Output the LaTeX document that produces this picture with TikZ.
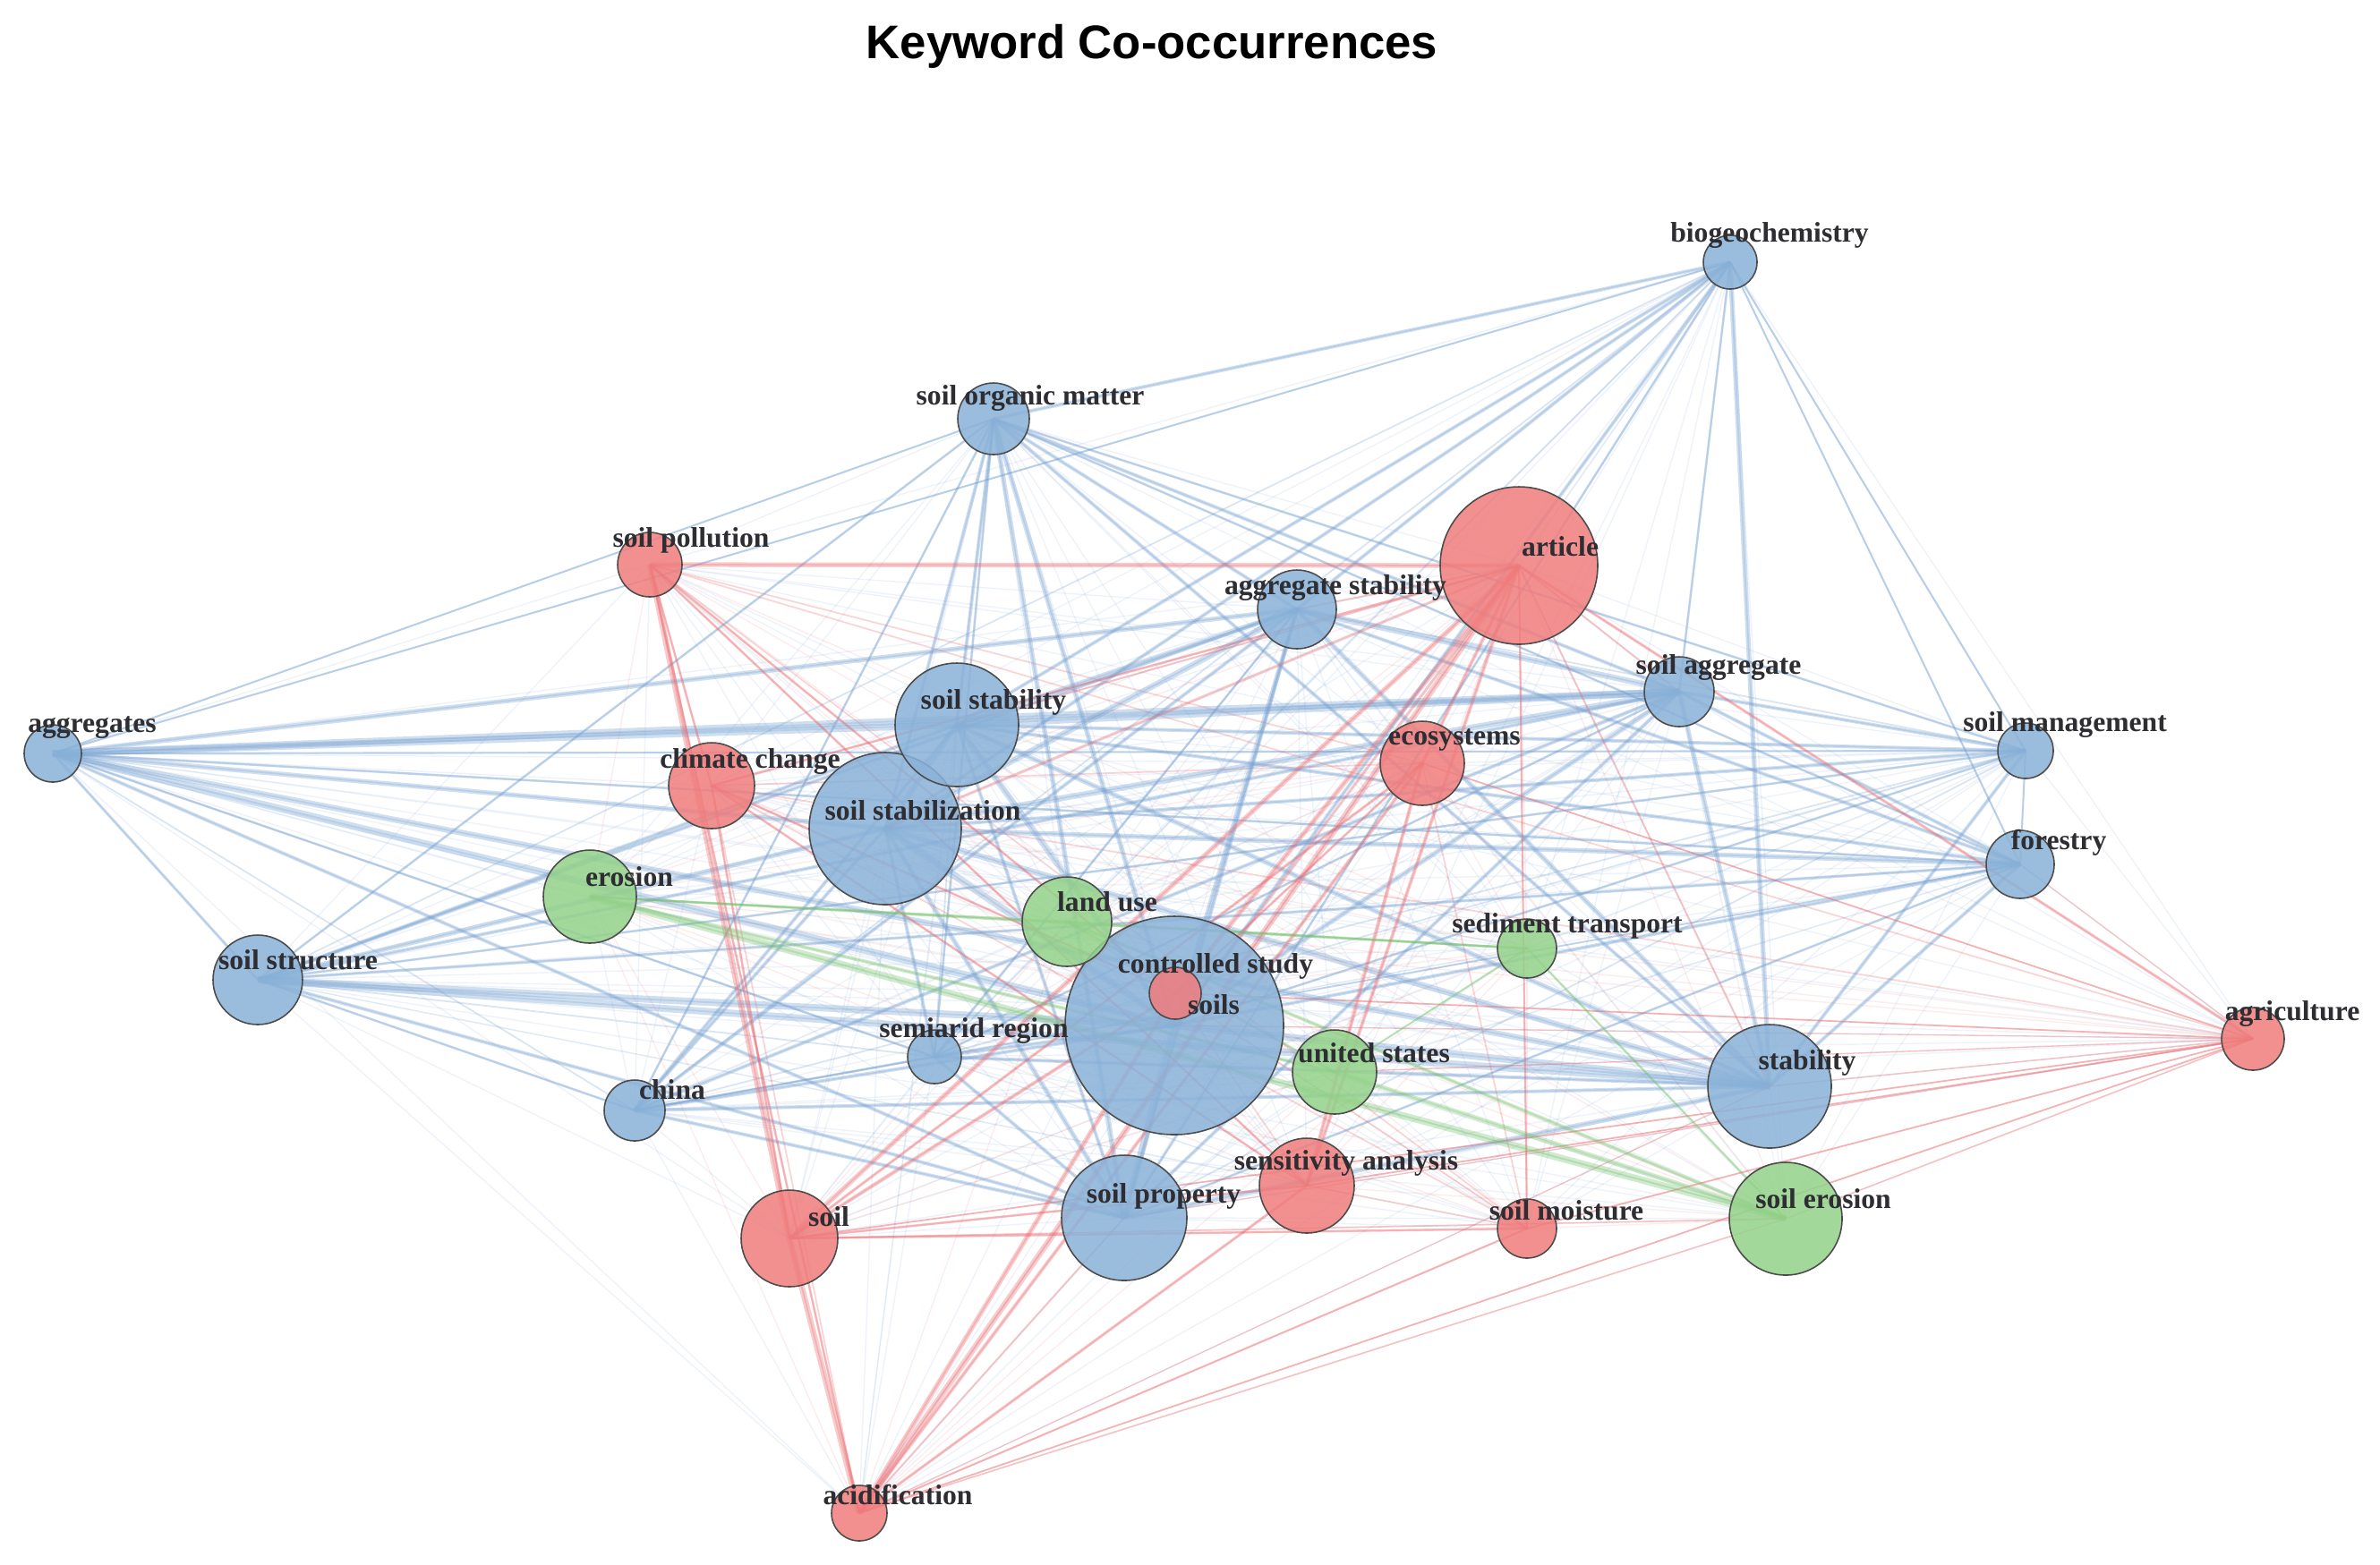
\documentclass[tikz,border=0pt]{standalone}
\usepackage{fontspec}
\setmainfont{Liberation Serif}
\newfontfamily\titlefont{Liberation Sans}
\pgfdeclarelayer{background}
\pgfsetlayers{background,main}
\definecolor{nodeblue}{RGB}{138,178,216}
\definecolor{nodered}{RGB}{240,125,125}
\definecolor{nodegreen}{RGB}{148,210,138}
\definecolor{c1}{RGB}{120,162,210}
\definecolor{c2}{RGB}{235,105,110}
\definecolor{c3}{RGB}{120,195,110}
\definecolor{labgray}{RGB}{45,45,50}
\tikzset{
  kw/.style={circle, draw=black!70, line width=0.45pt, inner sep=0pt, fill opacity=0.85},
  bn/.style={kw, fill=nodeblue},
  rn/.style={kw, fill=nodered},
  gn/.style={kw, fill=nodegreen},
  lab/.style={font=\bfseries\fontsize{9}{10}\selectfont, text=labgray, inner sep=0pt},
  faint/.style={line width=0.4pt, draw opacity=0.12},
  same/.style={line width=0.5pt, draw opacity=0.28},
  heavy/.style={draw opacity=0.34},
}
\def\allnodes{bio/1,som/1,ags/1,sagg/1,smgt/1,aggs/1,sstab/1,sstz/1,fore/1,sstr/1,cs/1,semi/1,stab/1,china/1,sprop/1,spol/2,art/2,eco/2,cc/2,soils/2,agri/2,sens/2,soil/2,smoist/2,acid/2,ero/3,lu/3,sed/3,us/3,seros/3}
\begin{document}
\begin{tikzpicture}
\useasboundingbox (0,0) rectangle (26.59,-17.48);
% title
\node[font=\titlefont\bfseries\fontsize{15}{18}\selectfont, anchor=base, text=black] (title) at (12.87,-0.65) {Keyword Co-occurrences};
% nodes
\node[bn, minimum size=0.60cm] (bio) at (19.33,-2.93) {};
\node[bn, minimum size=0.80cm] (som) at (11.10,-4.68) {};
\node[rn, minimum size=0.72cm] (spol) at (7.26,-6.31) {};
\node[rn, minimum size=1.76cm] (art) at (16.97,-6.32) {};
\node[bn, minimum size=0.88cm] (ags) at (14.49,-6.81) {};
\node[bn, minimum size=0.78cm] (sagg) at (18.76,-7.73) {};
\node[bn, minimum size=0.62cm] (smgt) at (22.63,-8.39) {};
\node[bn, minimum size=0.64cm] (aggs) at (0.59,-8.42) {};
\node[bn, minimum size=1.70cm] (sstz) at (9.89,-9.26) {};
\node[bn, minimum size=1.38cm] (sstab) at (10.69,-8.10) {};
\node[rn, minimum size=0.94cm] (eco) at (15.89,-8.53) {};
\node[rn, minimum size=0.96cm] (cc) at (7.95,-8.78) {};
\node[bn, minimum size=0.76cm] (fore) at (22.57,-9.66) {};
\node[gn, minimum size=1.04cm] (ero) at (6.59,-10.02) {};
\node[gn, minimum size=0.66cm] (sed) at (17.06,-10.60) {};
\node[bn, minimum size=1.00cm] (sstr) at (2.88,-10.95) {};
\node[bn, minimum size=2.44cm] (cs) at (13.12,-11.46) {};
\node[gn, minimum size=1.00cm] (lu) at (11.92,-10.30) {};
\node[rn, minimum size=0.58cm] (soils) at (13.13,-11.10) {};
\node[bn, minimum size=0.60cm] (semi) at (10.44,-11.81) {};
\node[rn, minimum size=0.70cm] (agri) at (25.17,-11.61) {};
\node[gn, minimum size=0.94cm] (us) at (14.91,-11.98) {};
\node[bn, minimum size=1.38cm] (stab) at (19.77,-12.14) {};
\node[bn, minimum size=0.68cm] (china) at (7.09,-12.41) {};
\node[rn, minimum size=1.06cm] (sens) at (14.60,-13.25) {};
\node[bn, minimum size=1.40cm] (sprop) at (12.56,-13.61) {};
\node[rn, minimum size=1.08cm] (soil) at (8.82,-13.84) {};
\node[rn, minimum size=0.66cm] (smoist) at (17.06,-13.73) {};
\node[gn, minimum size=1.26cm] (seros) at (19.95,-13.62) {};
\node[rn, minimum size=0.62cm] (acid) at (9.60,-16.91) {};
% edges
\begin{pgfonlayer}{background}
\fill[white] (0,0) rectangle (26.59,-17.48);
\foreach \a/\ca [count=\i] in \allnodes {
  \foreach \b/\cb [count=\j] in \allnodes {
    \ifnum\j>\i
      \ifnum\ca=\cb
        \draw[same, draw=c\ca] (\a.center) -- (\b.center);
      \else
        \draw[faint, draw=c\ca] (\a.center) -- (\b.center);
      \fi
    \fi
  }
}
\foreach \u/\v/\w in {aggs/sagg/3, aggs/sstab/3, aggs/ags/2, aggs/cs/3, aggs/stab/2.5, aggs/sstz/2, aggs/sprop/1.5, aggs/sstr/1.2, aggs/semi/1, aggs/fore/1, aggs/som/0.8, aggs/bio/0.8, aggs/smgt/0.8,
  sstr/stab/3, sstr/cs/3, sstr/sagg/1.5, sstr/ags/1.5, sstr/sstab/1.5, sstr/sstz/2, sstr/som/1, sstr/sprop/1.5, sstr/china/1, sstr/fore/1.2, sstr/smgt/1,
  bio/stab/2, bio/ags/1.5, bio/sstab/1.5, bio/sstz/1.5, bio/cs/1.5, bio/som/1.5, bio/sagg/1, bio/sprop/1, bio/smgt/0.8, bio/fore/0.8,
  som/cs/2, som/sprop/2, som/sstz/1.5, som/sstab/1.5, som/ags/1.5, som/stab/1.5, som/sagg/1.5, som/china/1, som/semi/1, som/fore/1, som/smgt/1,
  ags/sagg/2.5, ags/sstab/2, ags/sstz/2.5, ags/cs/2, ags/stab/2, ags/sprop/1.5, ags/china/1.5, ags/semi/1, ags/fore/1.5,
  sstab/sagg/3, sstab/stab/2, sstab/cs/2.5, sstab/sstz/2.5, sstab/sprop/1.5, sstab/china/1.5, sstab/fore/1.5, sstab/smgt/1.5,
  sstz/sagg/2.5, sstz/stab/2.5, sstz/cs/3, sstz/sprop/2, sstz/fore/2, sstz/smgt/1.5, sstz/china/1.5, sstz/semi/1.5,
  sagg/stab/2, sagg/cs/2, sagg/sprop/1.5, sagg/fore/1.5, sagg/smgt/1.5, sagg/china/1.5, sagg/semi/1,
  cs/stab/3, cs/sprop/3, cs/fore/1.5, cs/semi/1.5, cs/china/1.5, cs/smgt/1,
  stab/sprop/2, stab/fore/1.5, stab/smgt/1.5, stab/china/1.5, stab/semi/1.5,
  sprop/china/1.5, sprop/semi/1.5, sprop/fore/1, fore/smgt/0.8, china/semi/1}
  \draw[heavy, draw=c1, line width=\w*0.75pt] (\u.center) -- (\v.center);
\foreach \u/\v/\w in {spol/art/2, spol/soil/2.5, spol/acid/1, spol/sens/1, spol/cc/1, spol/soils/1, art/acid/2.5, art/soil/2, art/soils/2, art/sens/1.5, art/eco/1.5, art/agri/1.2, art/cc/1, art/smoist/0.8, soil/acid/2.5, soils/acid/2, soil/soils/1.5, soil/sens/1, soil/smoist/1, eco/sens/1.5, eco/acid/1.5, eco/soil/1.2, eco/soils/1, cc/soils/1, cc/soil/1, cc/sens/1, sens/acid/1.2, smoist/acid/0.8, agri/acid/0.6, agri/soil/0.6, agri/sens/0.6, agri/smoist/0.6, agri/soils/0.6, agri/eco/0.6,
  agri/stab/0.6, agri/fore/0.5, agri/seros/0.6, agri/sprop/0.5, agri/cs/0.5, agri/us/0.5, acid/seros/0.6, acid/stab/0.5, acid/sprop/0.8, soil/seros/0.6, art/stab/0.8, art/sagg/0.8, art/cs/1.2, art/sstz/1.2, art/sstab/0.8, art/ags/0.8}
  \draw[heavy, draw=c2, line width=\w*0.75pt] (\u.center) -- (\v.center);
\foreach \u/\v/\w in {ero/seros/3, ero/lu/1, ero/sed/1, ero/us/1.5, lu/seros/1.5, us/seros/2, lu/us/1, sed/seros/1, lu/sed/1, sed/us/0.8}
  \draw[heavy, draw=c3, line width=\w*0.75pt] (\u.center) -- (\v.center);
\end{pgfonlayer}
% labels
\node[lab] (bio-l) at (19.77,-2.63) {biogeochemistry};
\node[lab] (som-l) at (11.51,-4.45) {soil organic matter};
\node[lab] (spol-l) at (7.72,-6.04) {soil pollution};
\node[lab] (art-l) at (17.43,-6.11) {article};
\node[lab] (ags-l) at (14.92,-6.57) {aggregate stability};
\node[lab] (sstab-l) at (11.10,-7.85) {soil stability};
\node[lab] (eco-l) at (16.25,-8.27) {ecosystems};
\node[lab] (sagg-l) at (19.20,-7.46) {soil aggregate};
\node[lab] (smgt-l) at (23.07,-8.10) {soil management};
\node[lab] (fore-l) at (23.00,-9.42) {forestry};
\node[lab] (agri-l) at (25.61,-11.33) {agriculture};
\node[lab] (aggs-l) at (1.03,-8.13) {aggregates};
\node[lab] (cc-l) at (8.38,-8.51) {climate change};
\node[lab] (ero-l) at (7.03,-9.80) {erosion};
\node[lab] (sstr-l) at (3.33,-10.73) {soil structure};
\node[lab] (sstz-l) at (10.31,-9.06) {soil stabilization};
\node[lab] (lu-l) at (12.37,-10.08) {land use};
\node[lab] (sed-l) at (17.51,-10.35) {sediment transport};
\node[lab] (cs-l) at (13.58,-10.80) {controlled study};
\node[lab] (soils-l) at (13.56,-11.23) {soils};
\node[lab] (semi-l) at (10.88,-11.52) {semiarid region};
\node[lab] (us-l) at (15.35,-11.77) {united states};
\node[lab] (sens-l) at (15.04,-13.00) {sensitivity analysis};
\node[lab] (sprop-l) at (13.00,-13.37) {soil property};
\node[lab] (smoist-l) at (17.50,-13.53) {soil moisture};
\node[lab] (stab-l) at (20.19,-11.88) {stability};
\node[lab] (seros-l) at (20.37,-13.40) {soil erosion};
\node[lab] (china-l) at (7.51,-12.18) {china};
\node[lab] (soil-l) at (9.26,-13.60) {soil};
\node[lab] (acid-l) at (10.03,-16.70) {acidification};
\end{tikzpicture}
\end{document}
